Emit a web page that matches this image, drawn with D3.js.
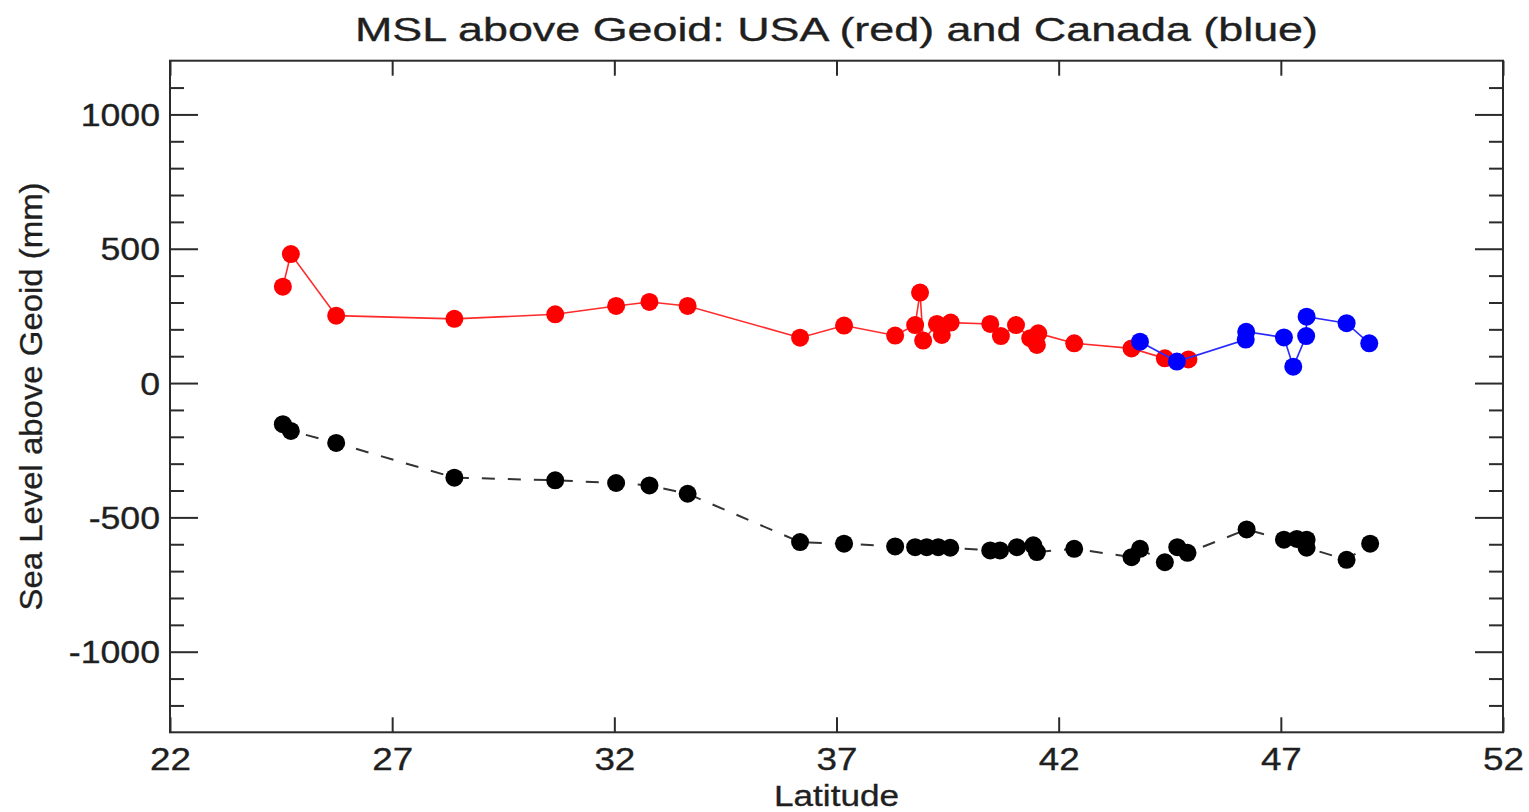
<!DOCTYPE html>
<html>
<head>
<meta charset="utf-8">
<script src="https://cdn.jsdelivr.net/npm/d3@7"></script>
<style>
  html, body { margin: 0; padding: 0; background: #fff; }
  svg { display: block; font-family: "Liberation Sans", Arial, sans-serif; }
  text { stroke: #1f1f1f; stroke-width: 0.35px; }
</style>
</head>
<body>
<div id="chart"></div>
<script>
// USA stations (red)
const usaLat = [24.54, 24.72, 25.74, 28.40, 30.67, 32.04, 32.79, 33.65, 36.18, 37.17, 38.32, 38.77, 38.88, 38.95,
  39.26, 39.37, 39.57, 40.46, 40.70, 41.04, 41.36, 41.51, 41.54, 42.35, 43.64, 44.39, 44.92];
const usaMsl = [359, 480, 251, 239, 256, 287, 302, 287, 169, 214, 177, 216, 337, 158,
  220, 179, 225, 220, 175, 216, 167, 142, 185, 148, 129, 92, 88];

// Canada stations (blue)
const canLat = [43.83, 44.66, 46.21, 46.22, 47.07, 47.28, 47.57, 47.58, 48.48, 48.99];
const canMsl = [154, 80, 162, 191, 170, 61, 175, 247, 223, 148];

// black dashed series
const blkLat = [24.54, 24.72, 25.74, 28.40, 30.67, 32.04, 32.79, 33.65, 36.18, 37.17, 38.32, 38.77, 39.03, 39.29,
  39.56, 40.46, 40.68, 41.06, 41.43, 41.51, 42.35, 43.64, 43.83, 44.39, 44.67, 44.90, 46.23, 47.07, 47.36,
  47.58, 47.58, 48.48, 49.01];
const blkVal = [-153, -178, -223, -352, -362, -372, -381, -412, -592, -598, -608, -611, -611, -611,
  -613, -623, -623, -611, -604, -629, -617, -648, -617, -667, -611, -632, -545, -583, -580,
  -583, -613, -658, -598];

const xTicks = [22, 27, 32, 37, 42, 47, 52];
const yMajor = [-1000, -500, 0, 500, 1000];
const yMinor = d3.range(-1200, 1200, 100).filter(v => v % 500 !== 0);

const title = 'MSL above Geoid: USA (red) and Canada (blue)';
const xTitle = 'Latitude';
const yTitle = 'Sea Level above Geoid (mm)';

const W = 1529, H = 812;
const m = { left: 170, right: 26, top: 60.7, bottom: 79.7 };

const svg = d3.select('#chart').append('svg').attr('width', W).attr('height', H);

const x = d3.scaleLinear().domain([22, 52]).range([m.left, W - m.right]);
const y = d3.scaleLinear().domain([-1300, 1200]).range([H - m.bottom, m.top]);

const axisColor = '#2b2b2b';
const textColor = '#1f1f1f';

// frame
svg.append('rect')
  .attr('x', x(22)).attr('y', y(1200))
  .attr('width', x(52) - x(22)).attr('height', y(-1300) - y(1200))
  .attr('fill', 'none').attr('stroke', axisColor).attr('stroke-width', 2);

// ticks, all pointing inward
const gBottom = svg.append('g').attr('transform', `translate(0,${y(-1300)})`)
  .call(d3.axisBottom(x).tickValues(xTicks).tickSize(-15).tickSizeOuter(0).tickPadding(25));
const gTop = svg.append('g').attr('transform', `translate(0,${y(1200)})`)
  .call(d3.axisTop(x).tickValues(xTicks).tickSize(-15).tickSizeOuter(0).tickFormat(''));
const gLeft = svg.append('g').attr('transform', `translate(${x(22)},0)`)
  .call(d3.axisLeft(y).tickValues(yMajor).tickSize(-28).tickSizeOuter(0).tickPadding(40)
    .tickFormat(d => String(d)));
const gLeftMinor = svg.append('g').attr('transform', `translate(${x(22)},0)`)
  .call(d3.axisLeft(y).tickValues(yMinor).tickSize(-14).tickSizeOuter(0).tickFormat(''));
const gRight = svg.append('g').attr('transform', `translate(${x(52)},0)`)
  .call(d3.axisRight(y).tickValues(yMajor).tickSize(-28).tickSizeOuter(0).tickFormat(''));
const gRightMinor = svg.append('g').attr('transform', `translate(${x(52)},0)`)
  .call(d3.axisRight(y).tickValues(yMinor).tickSize(-14).tickSizeOuter(0).tickFormat(''));

[gBottom, gTop, gLeft, gLeftMinor, gRight, gRightMinor].forEach(g => {
  g.select('.domain').remove();
  g.selectAll('line').attr('stroke', axisColor).attr('stroke-width', 2);
});

gBottom.selectAll('text')
  .attr('font-size', 32).attr('fill', textColor)
  .attr('y', 770 - y(-1300)).attr('dy', 0)
  .each(function() {
    d3.select(this)
      .attr('textLength', this.getComputedTextLength() * 1.15)
      .attr('lengthAdjust', 'spacingAndGlyphs');
  });

gLeft.selectAll('text')
  .attr('font-size', 31).attr('fill', textColor)
  .attr('x', -10).attr('dy', '0.36em')
  .each(function() {
    d3.select(this)
      .attr('textLength', this.getComputedTextLength() * 1.15)
      .attr('lengthAdjust', 'spacingAndGlyphs');
  });

// titles
svg.append('text')
  .attr('x', (x(22) + x(52)) / 2).attr('y', 41)
  .attr('text-anchor', 'middle').attr('font-size', 34).attr('fill', textColor)
  .attr('textLength', 963).attr('lengthAdjust', 'spacingAndGlyphs')
  .text(title);

svg.append('text')
  .attr('x', (x(22) + x(52)) / 2).attr('y', 805.5)
  .attr('text-anchor', 'middle').attr('font-size', 30).attr('fill', textColor)
  .attr('textLength', 125).attr('lengthAdjust', 'spacingAndGlyphs')
  .text(xTitle);

svg.append('text')
  .attr('transform', `translate(42,${(y(1200) + y(-1300)) / 2}) rotate(-90)`)
  .attr('text-anchor', 'middle').attr('font-size', 32).attr('fill', textColor)
  .attr('textLength', 428).attr('lengthAdjust', 'spacingAndGlyphs')
  .text(yTitle);

// series
const zip = (a, b) => a.map((v, i) => [v, b[i]]);
const line = d3.line().x(d => x(d[0])).y(d => y(d[1]));
const plot = svg.append('g');

function series(lat, val, color, lineColor, dash) {
  const pts = zip(lat, val);
  plot.append('path')
    .datum(pts)
    .attr('fill', 'none')
    .attr('stroke', lineColor)
    .attr('stroke-width', dash ? 2 : 1.6)
    .attr('stroke-dasharray', dash || null)
    .attr('d', line);
  plot.append('g').selectAll('circle')
    .data(pts)
    .join('circle')
    .attr('cx', d => x(d[0]))
    .attr('cy', d => y(d[1]))
    .attr('r', 9)
    .attr('fill', color);
}

series(blkLat, blkVal, '#000', '#333', '13,13');
series(usaLat, usaMsl, '#ff0000', '#ff2a2a', null);
series(canLat, canMsl, '#0000ff', '#2a2aff', null);
</script>
</body>
</html>
